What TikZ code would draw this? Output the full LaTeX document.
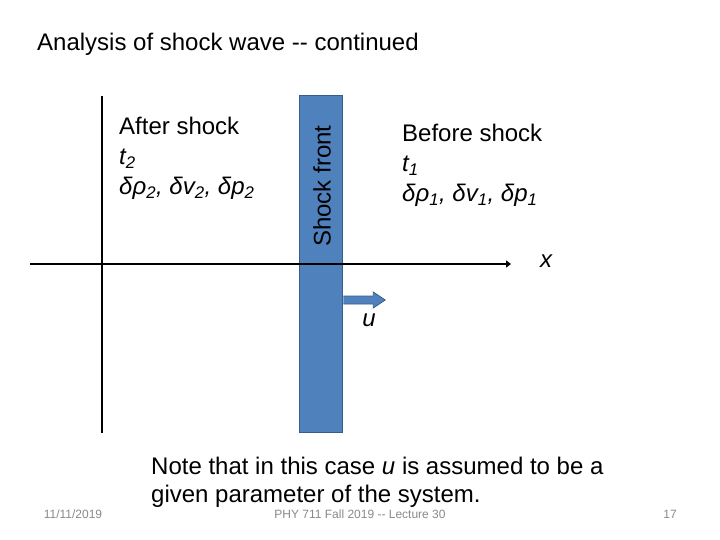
\documentclass[tikz,border=0pt]{standalone}
\usepackage{fontspec}
\setmainfont{Liberation Sans}
\usepackage{xcolor}
\usepackage{tikz}
\usetikzlibrary{arrows.meta, positioning}

\definecolor{shockblue}{HTML}{4F81BD}
\definecolor{shockedge}{HTML}{385D8A}
\definecolor{footgray}{HTML}{898989}

\begin{document}
\begin{tikzpicture}[
    x=1pt, y=-1pt,
    slidetext/.style={font=\fontsize{24}{30}\selectfont, align=left, inner sep=0pt},
    axis/.style={line width=2.6pt},
    foot/.style={font=\fontsize{12}{14}\selectfont, text=footgray, inner sep=0pt},
    frontbox/.style={rectangle, draw=shockedge, fill=shockblue, line width=1.5pt, inner sep=0pt},
    velarr/.style={draw=shockedge, fill=shockblue, line width=0.8pt, line join=miter}
]
\useasboundingbox (0,0) rectangle (720,540);

% title
\node[slidetext, anchor=west] (title) at (37,44) {Analysis of shock wave {-}{-} continued};

% shock front
\node[frontbox, minimum width=43pt, minimum height=337pt] (front) at (321,264) {};
\node[slidetext, rotate=90] (frontlbl) at (322,186) {Shock front};

% axes
\coordinate (yaxtop) at (102,96);
\coordinate (yaxbot) at (102,433);
\coordinate (xaxl) at (30,264);
\coordinate (xaxr) at (511,264);
\draw[axis] (yaxtop) -- (yaxbot);
\draw[axis, -{Triangle[length=5pt, width=7pt]}] (xaxl) -- (xaxr);
\node[slidetext, font=\fontsize{24}{30}\itshape] (xlbl) at (546,261) {x};

% velocity of the front
\coordinate (utail) at (front.east |- 0,300);
\draw[velarr] (utail) ++(0,-4) -- ++(30,0) -- ++(0,-4) -- ++(12,8)
  -- ++(-12,8) -- ++(0,-4) -- ++(-30,0);
\node[slidetext, font=\fontsize{24}{30}\itshape] (ulbl) at (369,320) {u};

% regions
\node[slidetext, anchor=north west] (after) at (119,117)
  {After shock\\ \textit{t\textsubscript{2}}\\ \textit{δρ\textsubscript{2}, δv\textsubscript{2}, δp\textsubscript{2}}};
\node[slidetext, anchor=north west] (before) at (402,124)
  {Before shock\\ \textit{t\textsubscript{1}}\\ \textit{δρ\textsubscript{1}, δv\textsubscript{1}, δp\textsubscript{1}}};

% note
\node[slidetext, anchor=north west, font=\fontsize{24}{28}\selectfont] (note) at (151,457)
  {Note that in this case \textit{u} is assumed to be a\\ given parameter of the system.};

% footer
\node[foot] (date) at (73,514) {11/11/2019};
\node[foot] (course) at (360,514) {PHY 711  Fall 2019 {-}{-} Lecture 30};
\node[foot] (page) at (670,514) {17};

\end{tikzpicture}
\end{document}
